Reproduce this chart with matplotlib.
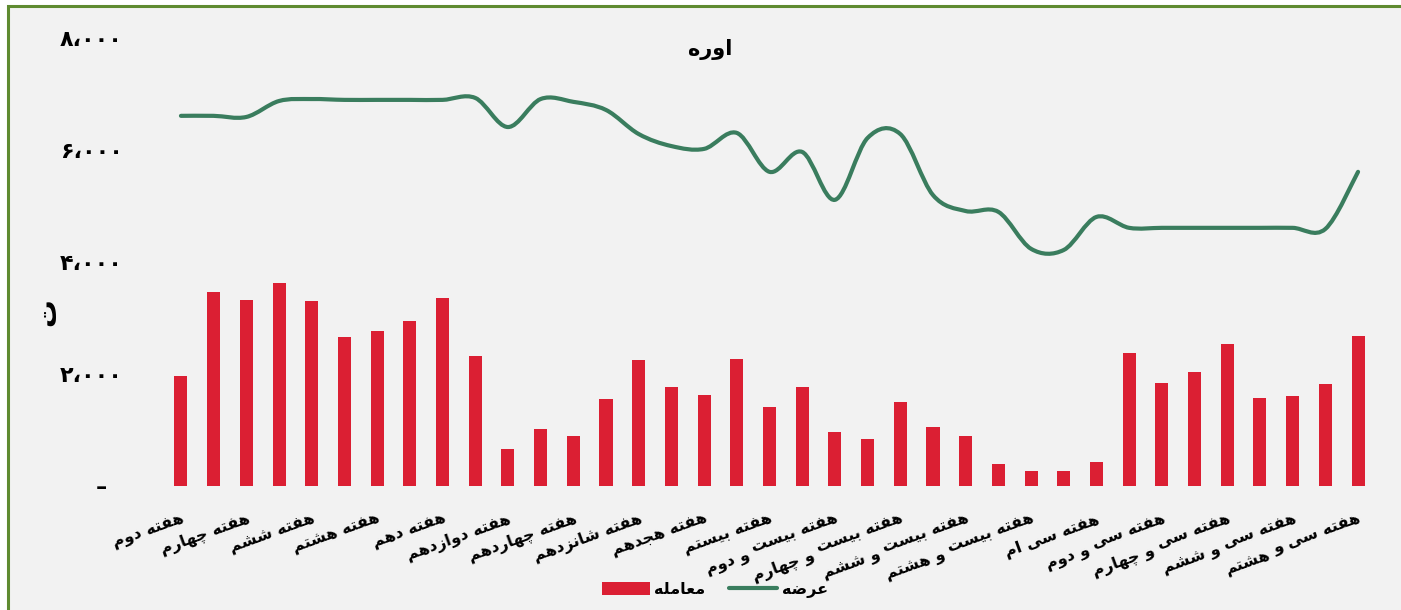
import matplotlib
matplotlib.use("Agg")
import matplotlib.pyplot as plt
import numpy as np
from matplotlib.path import Path
from matplotlib.patches import PathPatch, Rectangle, Patch
from matplotlib.lines import Line2D
from matplotlib.textpath import TextToPath
from matplotlib.font_manager import FontProperties

plt.rcParams['font.family'] = ['DejaVu Sans']

#--- data (weeks 2..38)
weeks = list(range(2, 39))
supply = [6610, 6610, 6590, 6875, 6910, 6895, 6895, 6895, 6895, 6930,
          6410, 6910, 6860, 6715, 6285, 6070, 6020, 6305, 5610, 5965,
          5110, 6215, 6285, 5195, 4910, 4895, 4235, 4215, 4805, 4610,
          4610, 4610, 4610, 4610, 4610, 4590, 5610]
trades = [1965, 3465, 3320, 3625, 3305, 2660, 2770, 2945, 3360, 2320,
          660, 1020, 895, 1555, 2250, 1770, 1625, 2270, 1410, 1770,
          965, 840, 1500, 1055, 895, 395, 270, 270, 430, 2375,
          1840, 2035, 2535, 1570, 1605, 1820, 2680]
week_labels = ["هفته دوم", "هفته چهارم", "هفته ششم", "هفته هشتم", "هفته دهم",
               "هفته دوازدهم", "هفته چهاردهم", "هفته شانزدهم", "هفته هجدهم",
               "هفته بیستم", "هفته بیست\nو دوم", "هفته بیست\nو چهارم",
               "هفته بیست\nو ششم", "هفته بیست\nو هشتم", "هفته سی ام",
               "هفته سی\nو دوم", "هفته سی\nو چهارم", "هفته سی\nو ششم",
               "هفته سی و\nهشتم"]
y_ticks = [0, 2000, 4000, 6000, 8000]
y_ticklabels = ["–  ", "۲،۰۰۰", "۴،۰۰۰", "۶،۰۰۰", "۸،۰۰۰"]
title = "اوره"
y_title = "ت"
series_names = ["معامله", "عرضه"]

#--- minimal arabic/persian shaping (matplotlib has no bidi support)
FORMS = {
    'ا': ('\uFE8D', '\uFE8E', None, None),
    'ب': ('\uFE8F', '\uFE90', '\uFE91', '\uFE92'),
    'ت': ('\uFE95', '\uFE96', '\uFE97', '\uFE98'),
    'ج': ('\uFE9D', '\uFE9E', '\uFE9F', '\uFEA0'),
    'چ': ('\uFB7A', '\uFB7B', '\uFB7C', '\uFB7D'),
    'د': ('\uFEA9', '\uFEAA', None, None),
    'ر': ('\uFEAD', '\uFEAE', None, None),
    'ز': ('\uFEAF', '\uFEB0', None, None),
    'س': ('\uFEB1', '\uFEB2', '\uFEB3', '\uFEB4'),
    'ش': ('\uFEB5', '\uFEB6', '\uFEB7', '\uFEB8'),
    'ض': ('\uFEBD', '\uFEBE', '\uFEBF', '\uFEC0'),
    'ع': ('\uFEC9', '\uFECA', '\uFECB', '\uFECC'),
    'ف': ('\uFED1', '\uFED2', '\uFED3', '\uFED4'),
    'ل': ('\uFEDD', '\uFEDE', '\uFEDF', '\uFEE0'),
    'م': ('\uFEE1', '\uFEE2', '\uFEE3', '\uFEE4'),
    'ن': ('\uFEE5', '\uFEE6', '\uFEE7', '\uFEE8'),
    'ه': ('\uFEE9', '\uFEEA', '\uFEEB', '\uFEEC'),
    'و': ('\uFEED', '\uFEEE', None, None),
    'ی': ('\uFBFC', '\uFBFD', '\uFBFE', '\uFBFF'),
}


def shape(s):
    out = []
    for i, c in enumerate(s):
        if c not in FORMS:
            out.append(c)
            continue
        prev = s[i - 1] if i > 0 else None
        nxt = s[i + 1] if i + 1 < len(s) else None
        jp = prev in FORMS and FORMS[prev][2] is not None
        jn = nxt in FORMS and FORMS[c][2] is not None
        iso, fin, ini, med = FORMS[c]
        if jp and jn:
            out.append(med)
        elif jp:
            out.append(fin)
        elif jn:
            out.append(ini)
        else:
            out.append(iso)
    return ''.join(out)[::-1]


def smooth_path(x, y):
    # excel-like smoothed line (catmull-rom as bezier)
    verts = [(x[0], y[0])]
    codes = [Path.MOVETO]
    n = len(x)
    for i in range(n - 1):
        x0, y0 = (x[i - 1], y[i - 1]) if i > 0 else (x[i], y[i])
        x1, y1 = x[i], y[i]
        x2, y2 = x[i + 1], y[i + 1]
        x3, y3 = (x[i + 2], y[i + 2]) if i + 2 < n else (x2, y2)
        verts += [(x1 + (x2 - x0) / 6, y1 + (y2 - y0) / 6),
                  (x2 - (x3 - x1) / 6, y2 - (y3 - y1) / 6),
                  (x2, y2)]
        codes += [Path.CURVE4] * 3
    return Path(verts, codes)


RED = '#db1f33'
GREEN = '#3a7d5e'
BORDER = '#5f8b30'

fig = plt.figure(figsize=(14.01, 6.10), dpi=100, facecolor='white')
fig.patches.append(Rectangle((8 / 1401, -0.05), 1.1, 1 - 6 / 610 + 0.05,
                             transform=fig.transFigure, facecolor='#f2f2f2',
                             edgecolor=BORDER, lw=2.2, zorder=-10))

ax = fig.add_axes([164.6 / 1401, (610 - 486) / 610, (1374.4 - 164.6) / 1401, 448 / 610])
ax.set_facecolor('none')

x = np.arange(len(weeks))
ax.bar(x, trades, width=0.4, color=RED, zorder=2)
ax.add_patch(PathPatch(smooth_path(x, supply), fill=False, ec=GREEN, lw=3,
                       capstyle='round', joinstyle='round', zorder=3))

ax.set_xlim(-0.5, len(weeks) - 0.5)
ax.set_ylim(0, 8000)
ax.set_yticks(y_ticks)
ax.set_yticklabels(y_ticklabels, fontsize=16, fontweight='bold')
ax.tick_params(axis='y', length=0, pad=30)
ax.set_xticks([])
for sp in ax.spines.values():
    sp.set_visible(False)

#--- rotated category labels, wrapped lines continue to the left
rot = 20
fs = 11.5
fp = FontProperties(family='DejaVu Sans', weight='bold', size=fs)
ttp = TextToPath()
ca, sa = np.cos(np.radians(rot)), np.sin(np.radians(rot))
y0 = -18
for i, lab in zip(range(0, len(weeks), 2), week_labels):
    lines = lab.split('\n')
    s1 = shape(lines[0])
    ax.annotate(s1, xy=(i, 0), xycoords=('data', 'axes fraction'),
                xytext=(0, y0), textcoords='offset points',
                ha='right', va='top', rotation=rot, rotation_mode='anchor',
                fontproperties=fp)
    if len(lines) > 1:
        w1 = ttp.get_text_width_height_descent(s1, fp, ismath=False)[0]
        gap, lh = 4, fs * 0.25
        ox = -(w1 + gap) * ca + lh * sa
        oy = -(w1 + gap) * sa - lh * ca
        ax.annotate(shape(lines[1]), xy=(i, 0), xycoords=('data', 'axes fraction'),
                    xytext=(ox, y0 + oy), textcoords='offset points',
                    ha='right', va='top', rotation=rot, rotation_mode='anchor',
                    fontproperties=fp)

fig.text(710 / 1401, 1 - 50 / 610, shape(title), ha='center', va='center',
         fontsize=15, fontweight='bold')
fig.text(47 / 1401, 1 - 312 / 610, shape(y_title), ha='center', va='center',
         rotation=90, fontsize=20, fontweight='bold')

handles = [Patch(facecolor=RED, edgecolor='none'),
           Line2D([0], [0], color=GREEN, lw=3, solid_capstyle='round')]
fig.legend(handles, [shape(s) for s in series_names], loc='center',
           bbox_to_anchor=(715 / 1401, 1 - 590 / 610), ncol=2, frameon=False,
           prop=FontProperties(family='DejaVu Sans', weight='bold', size=11.5),
           handlelength=3.0, handleheight=0.9, handletextpad=0.3, columnspacing=1.5)

fig.savefig('out.png', dpi=100, facecolor=fig.get_facecolor())
